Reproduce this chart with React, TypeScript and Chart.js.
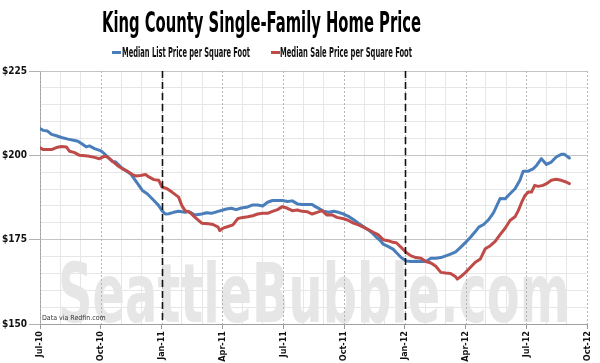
import React, { useEffect, useRef } from "react";
import { Chart, registerables } from "chart.js";

Chart.register(...registerables);

const TITLE = "King County Single-Family Home Price";
const SERIES_NAMES = ["Median List Price per Square Foot", "Median Sale Price per Square Foot"];
const SERIES_COLORS = ["#4a7ebb", "#be4b48"];
const QUARTER_LABELS = ["Jul-10", "Oct-10", "Jan-11", "Apr-11", "Jul-11", "Oct-11", "Jan-12", "Apr-12", "Jul-12", "Oct-12"];
const MARKER_MONTHS = [6, 18]; // Jan-11, Jan-12 (months since Jul-10)
const WATERMARK = "SeattleBubble.com";
const SOURCE = "Data via Redfin.com";
const Y_MIN = 150;
const Y_MAX = 225;

// months since Jul-10
const listMonths = [
  0, 0.16, 0.37, 0.57, 0.81, 1.06, 1.38, 1.71, 1.87, 2.12, 2.28, 2.44, 2.69, 3.01, 3.17, 3.34, 3.58, 3.74, 3.99,
  4.23, 4.48, 4.64, 4.88, 5.05, 5.29, 5.62, 5.86, 6.02, 6.18, 6.35, 6.59, 6.84, 7.16, 7.32, 7.65, 7.98, 8.22, 8.46,
  8.79, 9.2, 9.44, 9.68, 9.93, 10.25, 10.5, 10.74, 10.99, 11.23, 11.47, 11.96, 12.21, 12.45, 12.7, 12.94, 13.18,
  13.43, 13.59, 13.75, 14.0, 14.24, 14.49, 14.73, 14.98, 15.22, 15.46, 15.71, 15.95, 16.2, 16.44, 16.6, 16.76,
  16.93, 17.17, 17.42, 17.58, 17.82, 18.07, 18.31, 18.55, 18.8, 19.04, 19.29, 19.53, 19.78, 20.02, 20.26, 20.51,
  20.75, 21.0, 21.24, 21.48, 21.65, 21.89, 22.13, 22.38, 22.7, 22.95, 23.19, 23.44, 23.68, 23.84, 24.09, 24.33,
  24.5, 24.74, 24.99, 25.23, 25.47, 25.72, 25.88, 26.12,
];
const listValues = [
  207.9, 207.4, 207.2, 206.2, 205.8, 205.3, 204.8, 204.4, 204.2, 203.2, 202.5, 202.8, 202.0, 201.3, 200.5, 199.5,
  198.2, 198.0, 196.5, 195.5, 194.5, 193.1, 191.1, 189.6, 188.6, 186.6, 185.1, 183.6, 182.6, 182.7, 183.1, 183.4,
  183.1, 183.4, 182.3, 182.6, 183.0, 182.8, 183.4, 184.1, 184.3, 183.9, 184.4, 184.7, 185.3, 185.3, 185.0, 186.1,
  186.6, 186.6, 186.3, 186.5, 185.6, 185.4, 185.4, 185.4, 184.8, 184.3, 183.4, 183.1, 183.4, 183.1, 182.6, 181.9,
  181.0, 179.9, 178.9, 177.9, 176.7, 175.7, 174.9, 173.7, 173.0, 172.2, 171.2, 169.7, 168.7, 168.5, 168.6, 168.5,
  168.5, 169.5, 169.5, 169.7, 170.2, 170.7, 171.4, 172.7, 174.2, 175.7, 177.4, 178.7, 179.5, 180.9, 183.0, 187.2,
  187.1, 188.6, 190.1, 192.6, 195.3, 195.3, 196.0, 197.0, 199.0, 197.3, 198.0, 199.5, 200.3, 200.3, 199.2,
];

const saleMonths = [
  0, 0.16, 0.57, 0.81, 1.06, 1.3, 1.46, 1.71, 1.95, 2.36, 2.69, 2.93, 3.17, 3.34, 3.58, 3.82, 4.07, 4.31, 4.56,
  4.72, 4.96, 5.21, 5.37, 5.62, 5.86, 6.02, 6.27, 6.51, 6.84, 7.0, 7.16, 7.41, 7.65, 7.98, 8.3, 8.54, 8.79, 8.87,
  9.03, 9.28, 9.52, 9.77, 10.01, 10.25, 10.5, 10.74, 10.99, 11.23, 11.47, 11.72, 11.96, 12.21, 12.45, 12.7, 12.94,
  13.18, 13.43, 13.67, 13.92, 14.16, 14.4, 14.65, 14.98, 15.22, 15.46, 15.71, 15.95, 16.2, 16.44, 16.68, 16.93,
  17.17, 17.42, 17.58, 17.82, 18.07, 18.31, 18.55, 18.8, 19.04, 19.29, 19.53, 19.78, 20.02, 20.26, 20.51, 20.59,
  20.75, 21.0, 21.24, 21.48, 21.73, 21.97, 22.22, 22.46, 22.7, 22.95, 23.19, 23.44, 23.6, 23.77, 23.93, 24.09,
  24.25, 24.41, 24.58, 24.82, 24.99, 25.23, 25.47, 25.72, 25.96, 26.12,
];
const saleValues = [
  202.2, 201.7, 201.7, 202.3, 202.6, 202.5, 201.2, 200.8, 200.0, 199.8, 199.4, 199.0, 199.7, 199.5, 198.2, 197.0,
  196.0, 195.3, 194.3, 193.9, 194.0, 194.3, 193.6, 192.8, 192.6, 190.6, 190.1, 189.1, 187.6, 185.1, 183.6, 183.0,
  181.6, 179.9, 179.7, 179.5, 178.7, 177.7, 178.4, 178.9, 179.4, 181.3, 181.6, 181.8, 182.1, 182.6, 182.8, 182.8,
  183.4, 183.9, 184.8, 184.3, 183.6, 183.8, 183.4, 183.3, 182.6, 183.1, 183.6, 182.3, 182.4, 181.6, 181.2, 180.7,
  179.9, 179.4, 178.7, 178.0, 177.2, 176.5, 175.0, 174.7, 174.2, 174.1, 172.7, 171.2, 170.2, 169.7, 169.5, 168.5,
  168.1, 167.1, 165.3, 165.1, 165.0, 164.0, 163.3, 164.0, 165.3, 166.8, 168.3, 169.3, 172.3, 173.2, 174.5, 176.5,
  178.4, 180.7, 181.8, 183.6, 186.1, 188.1, 189.1, 189.1, 191.1, 190.8, 191.1, 191.6, 192.6, 192.9, 192.6, 192.1,
  191.6,
];

const NARROW = "'Liberation Sans Narrow', 'DejaVu Sans Condensed', 'Arial Narrow', sans-serif";
const TRANSPARENT = "rgba(0,0,0,0)";

function drawCondensed(ctx: CanvasRenderingContext2D, text: string, left: number, baseline: number, font: string, width: number, color: string) {
  ctx.save();
  ctx.font = font;
  ctx.fillStyle = color;
  ctx.textAlign = "left";
  ctx.textBaseline = "alphabetic";
  const w = ctx.measureText(text).width;
  ctx.translate(left, baseline);
  ctx.scale(width / w, 1);
  ctx.fillText(text, 0, 0);
  ctx.restore();
}

const decorPlugin = {
  id: "decor",
  beforeDraw(chart: any) {
    const { ctx, chartArea: a } = chart;
    ctx.save();
    ctx.fillStyle = "#ffffff";
    ctx.fillRect(0, 0, chart.width, chart.height);
    ctx.restore();
    const pw = a.right - a.left;
    drawCondensed(ctx, WATERMARK, a.left + pw * 0.033, a.bottom - 2, `bold 82px ${NARROW}`, pw * 0.935, "#e6e6e6");
  },
  beforeDatasetsDraw(chart: any) {
    const { ctx, chartArea: a, scales } = chart;
    const xs = scales.x;
    ctx.save();
    ctx.strokeStyle = "#b4b4b4";
    ctx.lineWidth = 1;
    ctx.setLineDash([2, 2]);
    for (let q = 0; q < QUARTER_LABELS.length; q++) {
      const px = Math.round(xs.getPixelForValue(q * 3)) + 0.5;
      ctx.beginPath();
      ctx.moveTo(px, a.top);
      ctx.lineTo(px, a.bottom);
      ctx.stroke();
    }
    ctx.restore();
    ctx.save();
    ctx.font = `7px ${NARROW}`;
    ctx.fillStyle = "#333";
    ctx.textBaseline = "alphabetic";
    ctx.fillText(SOURCE, a.left + 2, a.bottom - 4);
    ctx.restore();
  },
  afterDatasetsDraw(chart: any) {
    const { ctx, chartArea: a, scales } = chart;
    ctx.save();
    ctx.strokeStyle = "#111";
    ctx.lineWidth = 1.6;
    ctx.setLineDash([7, 4]);
    for (const m of MARKER_MONTHS) {
      const px = Math.round(scales.x.getPixelForValue(m)) + 0.5;
      ctx.beginPath();
      ctx.moveTo(px, a.top);
      ctx.lineTo(px, a.bottom);
      ctx.stroke();
    }
    ctx.restore();
  },
  afterDraw(chart: any) {
    const { ctx } = chart;
    drawCondensed(ctx, TITLE, 102, 32, `bold 29px ${NARROW}`, 319, "#000");
    const legend = [
      { left: 112, textLeft: 122, width: 128 },
      { left: 271, textLeft: 280, width: 132 },
    ];
    legend.forEach((l, i) => {
      ctx.save();
      ctx.strokeStyle = SERIES_COLORS[i];
      ctx.lineWidth = 3;
      ctx.beginPath();
      ctx.moveTo(l.left, 52.5);
      ctx.lineTo(l.left + 9, 52.5);
      ctx.stroke();
      ctx.restore();
      drawCondensed(ctx, SERIES_NAMES[i], l.textLeft, 57, `bold 14px ${NARROW}`, l.width, "#111");
    });
  },
};

export default function App() {
  const canvasRef = useRef<HTMLCanvasElement | null>(null);

  useEffect(() => {
    document.body.style.margin = "0";
    const canvas = canvasRef.current;
    if (!canvas) return;
    const isQuarter = (v: number) => Math.abs(v % 3) < 1e-6;
    const isMajorY = (v: number) => Math.abs(v % 25) < 1e-6;
    const chart = new Chart(canvas, {
      type: "line",
      data: {
        datasets: [
          {
            label: SERIES_NAMES[0],
            data: listMonths.map((m, i) => ({ x: m, y: listValues[i] })),
            borderColor: SERIES_COLORS[0],
            backgroundColor: SERIES_COLORS[0],
            borderWidth: 3,
            pointRadius: 0,
            tension: 0,
            borderJoinStyle: "round",
            borderCapStyle: "round",
            order: 1,
          },
          {
            label: SERIES_NAMES[1],
            data: saleMonths.map((m, i) => ({ x: m, y: saleValues[i] })),
            borderColor: SERIES_COLORS[1],
            backgroundColor: SERIES_COLORS[1],
            borderWidth: 3,
            pointRadius: 0,
            tension: 0,
            borderJoinStyle: "round",
            borderCapStyle: "round",
            order: 0,
          },
        ],
      },
      options: {
        animation: false,
        responsive: false,
        maintainAspectRatio: false,
        events: [],
        layout: { padding: { top: 71, right: 7, left: 0, bottom: 0 } },
        plugins: {
          legend: { display: false },
          title: { display: false },
          tooltip: { enabled: false },
        },
        scales: {
          x: {
            type: "linear",
            min: 0,
            max: 27,
            afterFit: (s: any) => {
              s.height = 39;
            },
            ticks: {
              stepSize: 1,
              autoSkip: false,
              minRotation: 90,
              maxRotation: 90,
              padding: 2,
              color: "#111",
              font: { family: NARROW, size: 9, weight: "bold" },
              callback: (v: any) => (isQuarter(Number(v)) ? QUARTER_LABELS[Math.round(Number(v) / 3)] : ""),
            },
            grid: {
              color: (c: any) => (c.tick && isQuarter(c.tick.value) ? TRANSPARENT : "#e6e6e6"),
              tickColor: (c: any) => (c.tick && isQuarter(c.tick.value) ? "#999" : TRANSPARENT),
              tickLength: 5,
              lineWidth: 1,
            },
            border: { color: "#a0a0a0", width: 1 },
          },
          y: {
            min: Y_MIN,
            max: Y_MAX,
            afterFit: (s: any) => {
              s.width = 40;
            },
            ticks: {
              stepSize: 5,
              autoSkip: false,
              padding: 2,
              color: "#111",
              font: { family: NARROW, size: 10, weight: "bold" },
              callback: (v: any) => (isMajorY(Number(v)) ? "$" + v : ""),
            },
            grid: {
              color: (c: any) => (c.tick && isMajorY(c.tick.value) ? "#c4c4c4" : "#e6e6e6"),
              tickColor: (c: any) => (c.tick && isMajorY(c.tick.value) ? "#b0b0b0" : TRANSPARENT),
              tickLength: 11,
              lineWidth: 1,
            },
            border: { color: "#a0a0a0", width: 1 },
          },
        },
      },
      plugins: [decorPlugin],
    } as any);
    return () => chart.destroy();
  }, []);

  return (
    <div style={{ width: 600, height: 363, position: "relative" }}>
      <canvas ref={canvasRef} width={600} height={363} style={{ display: "block", width: 600, height: 363 }} />
    </div>
  );
}
